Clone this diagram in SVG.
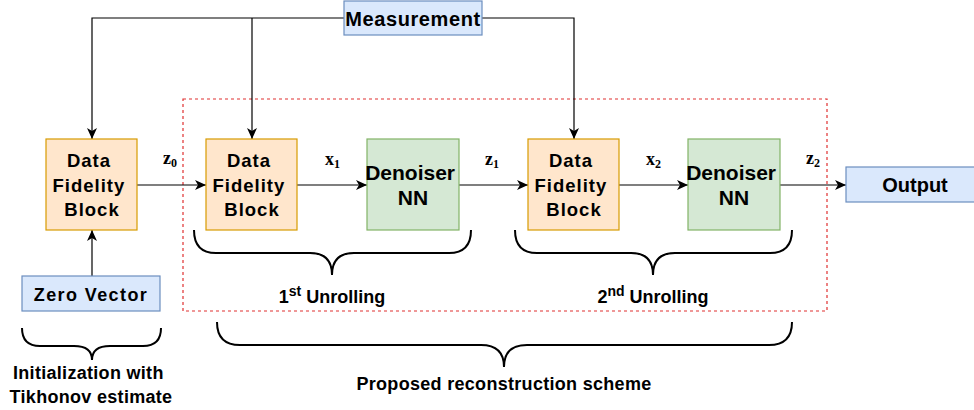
<svg xmlns="http://www.w3.org/2000/svg" width="974" height="410" viewBox="0 0 974 410">
  <style>
    .lbl { font-family: "Liberation Sans", Arial, sans-serif; font-weight: bold; fill: #000; text-anchor: middle; }
    .df { fill: #ffe6cc; stroke: #d79b00; stroke-width: 1.2; }
    .nn { fill: #d5e8d4; stroke: #82b366; stroke-width: 1.2; }
    .io { fill: #dae8fc; stroke: #6c8ebf; stroke-width: 1.2; }
    .wire { fill: none; stroke: #000; stroke-width: 1.2; }
    .brace { fill: none; stroke: #000; stroke-width: 2; }
    .math { font-family: "Liberation Serif", "Times New Roman", serif; font-weight: bold; font-size: 18px; fill: #000; }
    .sub { font-size: 12px; }
  </style>
  <defs>
    <marker id="arrow" markerUnits="userSpaceOnUse" markerWidth="12" markerHeight="10" refX="11" refY="5" orient="auto">
      <path d="M0,0 L11,5 L0,10 L3,5 z" fill="#000"/>
    </marker>
  </defs>

  <!-- proposed scheme outline -->
  <rect x="183" y="99" width="644" height="212" fill="none" stroke="#e03030" stroke-width="1.2" stroke-dasharray="3 3"/>

  <g id="connectors">
    <polyline class="wire" points="344,18 92,18 92,139" marker-end="url(#arrow)"/>
    <line class="wire" x1="252" y1="18" x2="252" y2="139" marker-end="url(#arrow)"/>
    <polyline class="wire" points="482,18 574,18 574,139" marker-end="url(#arrow)"/>
    <line class="wire" x1="92" y1="276" x2="92" y2="230" marker-end="url(#arrow)"/>
    <line class="wire" x1="137" y1="185" x2="206" y2="185" marker-end="url(#arrow)"/>
    <line class="wire" x1="297" y1="185" x2="367" y2="185" marker-end="url(#arrow)"/>
    <line class="wire" x1="459" y1="185" x2="528" y2="185" marker-end="url(#arrow)"/>
    <line class="wire" x1="619" y1="185" x2="688" y2="185" marker-end="url(#arrow)"/>
    <line class="wire" x1="780" y1="185" x2="846" y2="185" marker-end="url(#arrow)"/>
  </g>

  <!-- signal labels -->
  <text class="math" x="163" y="164">z<tspan class="sub" dy="3">0</tspan></text>
  <text class="math" x="325" y="165">x<tspan class="sub" dy="3">1</tspan></text>
  <text class="math" x="485" y="165">z<tspan class="sub" dy="3">1</tspan></text>
  <text class="math" x="646" y="165">x<tspan class="sub" dy="3">2</tspan></text>
  <text class="math" x="806" y="164">z<tspan class="sub" dy="3">2</tspan></text>

  <g id="measurement">
    <rect class="io" x="344" y="1" width="138" height="34"/>
    <text class="lbl" x="413" y="26" font-size="20" letter-spacing="0.6">Measurement</text>
  </g>

  <g id="df0">
    <rect class="df" x="46" y="139" width="91" height="91"/>
    <text class="lbl" font-size="18.5" letter-spacing="1">
      <tspan x="92" y="167">Data</tspan>
      <tspan x="92" y="192">Fidelity</tspan>
      <tspan x="92" y="216">Block</tspan>
    </text>
  </g>

  <g id="df1">
    <rect class="df" x="206" y="139" width="91" height="91"/>
    <text class="lbl" font-size="18.5" letter-spacing="1">
      <tspan x="252" y="167">Data</tspan>
      <tspan x="252" y="192">Fidelity</tspan>
      <tspan x="252" y="216">Block</tspan>
    </text>
  </g>

  <g id="nn1">
    <rect class="nn" x="367" y="139" width="92" height="91"/>
    <text class="lbl" font-size="21">
      <tspan x="413" y="180">Denoiser</tspan>
      <tspan x="413" y="205">NN</tspan>
    </text>
  </g>

  <g id="df2">
    <rect class="df" x="528" y="139" width="91" height="91"/>
    <text class="lbl" font-size="18.5" letter-spacing="1">
      <tspan x="574" y="167">Data</tspan>
      <tspan x="574" y="192">Fidelity</tspan>
      <tspan x="574" y="216">Block</tspan>
    </text>
  </g>

  <g id="nn2">
    <rect class="nn" x="688" y="139" width="92" height="91"/>
    <text class="lbl" font-size="21">
      <tspan x="734" y="180">Denoiser</tspan>
      <tspan x="734" y="205">NN</tspan>
    </text>
  </g>

  <g id="output">
    <rect class="io" x="846" y="167" width="138" height="35"/>
    <text class="lbl" x="915" y="192" font-size="20">Output</text>
  </g>

  <g id="zero-vector">
    <rect class="io" x="22" y="276" width="138" height="35"/>
    <text class="lbl" x="91" y="301" font-size="18" letter-spacing="1.4">Zero Vector</text>
  </g>

  <!-- braces and their captions -->
  <g id="braces">
    <path class="brace" d="M194,230 Q194,253 216,253 L310,253 Q332,253 332,275 Q332,253 354,253 L449,253 Q471,253 471,230"/>
    <path class="brace" d="M515,230 Q515,253 537,253 L631,253 Q653,253 653,275 Q653,253 675,253 L770,253 Q792,253 792,230"/>
    <path class="brace" d="M22,328 Q22,346 40,346 L74,346 Q92,346 92,360 Q92,346 110,346 L143,346 Q161,346 161,328"/>
    <path class="brace" d="M217,322 Q217,345 240,345 L481,345 Q504,345 504,367 Q504,345 527,345 L769,345 Q792,345 792,322"/>
  </g>

  <text class="lbl" x="332" y="303" font-size="18">1<tspan font-size="14" dy="-7">st</tspan><tspan dy="7"> Unrolling</tspan></text>
  <text class="lbl" x="653" y="303" font-size="18">2<tspan font-size="14" dy="-7">nd</tspan><tspan dy="7"> Unrolling</tspan></text>
  <text class="lbl" font-size="18" letter-spacing="0.3">
    <tspan x="91" y="379">Initialization with</tspan>
    <tspan x="91" y="403">Tikhonov estimate</tspan>
  </text>
  <text class="lbl" x="504" y="390" font-size="18" letter-spacing="0.3">Proposed reconstruction scheme</text>
</svg>
